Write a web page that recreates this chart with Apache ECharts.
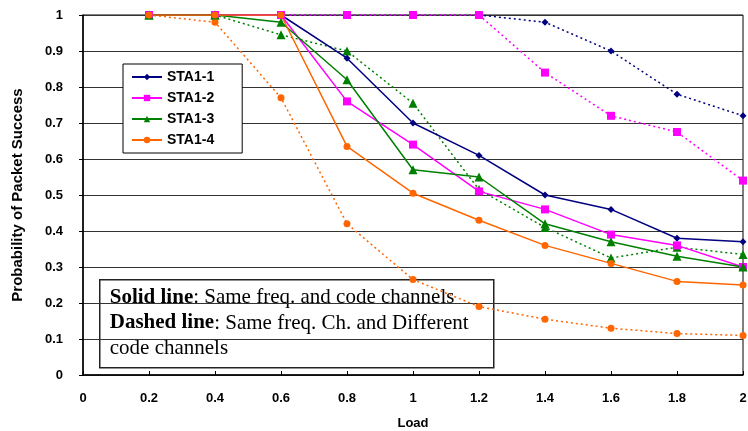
<!DOCTYPE html>
<html>
<head>
<meta charset="utf-8">
<script src="https://cdn.jsdelivr.net/npm/echarts@6/dist/echarts.min.js"></script>
<style>
  html, body { margin: 0; padding: 0; background: #fff; }
  #chart { width: 748px; height: 431px; }
</style>
</head>
<body>
<div id="chart"></div>
<script>
// load values on the x axis
var loads = [0.2, 0.4, 0.6, 0.8, 1.0, 1.2, 1.4, 1.6, 1.8, 2.0];

// solid = same freq. and code channels, dashed = same freq., different code channels
var sta1Solid  = [1, 1, 1, 0.88, 0.70, 0.61, 0.50, 0.46, 0.38, 0.37];
var sta1Dashed = [1, 1, 1, 1, 1, 1, 0.98, 0.90, 0.78, 0.72];
var sta2Solid  = [1, 1, 1, 0.76, 0.64, 0.51, 0.46, 0.39, 0.36, 0.30];
var sta2Dashed = [1, 1, 1, 1, 1, 1, 0.84, 0.72, 0.675, 0.54];
var sta3Solid  = [1, 1, 0.98, 0.82, 0.57, 0.55, 0.42, 0.37, 0.33, 0.30];
var sta3Dashed = [1, 1, 0.945, 0.90, 0.755, 0.515, 0.41, 0.325, 0.355, 0.335];
var sta4Solid  = [1, 1, 1, 0.635, 0.505, 0.43, 0.36, 0.31, 0.26, 0.25];
var sta4Dashed = [1, 0.98, 0.77, 0.42, 0.265, 0.19, 0.155, 0.13, 0.115, 0.11];

var names = ['STA1-1', 'STA1-2', 'STA1-3', 'STA1-4'];

var sans = "'Liberation Sans', Arial, sans-serif";
var serif = "'Liberation Serif', 'Times New Roman', serif";

function pairs(vals) {
  return loads.map(function (x, i) { return [x, vals[i]]; });
}

function line(name, vals, color, symbol, size, dashed) {
  return {
    name: name,
    type: 'line',
    data: pairs(vals),
    symbol: symbol,
    symbolSize: size,
    color: color,
    itemStyle: { color: color },
    lineStyle: dashed
      ? { color: color, width: 1.5, type: [2, 3] }
      : { color: color, width: 1.5 },
    z: dashed ? 2 : 3
  };
}

var chart = echarts.init(document.getElementById('chart'));
chart.setOption({
  animation: false,
  grid: {
    left: 83, right: 5, top: 15, bottom: 56,
    outerBoundsMode: 'none',
    containLabel: false,
    show: true, borderColor: '#000', borderWidth: 1
  },
  legend: {
    data: names,
    orient: 'vertical',
    left: 123, top: 64,
    itemWidth: 30, itemHeight: 8, itemGap: 7,
    padding: [6, 28, 6, 8],
    backgroundColor: '#fff',
    borderColor: '#000', borderWidth: 1,
    textStyle: { fontFamily: sans, fontWeight: 'bold', fontSize: 14, color: '#000' },
    z: 10
  },
  xAxis: {
    type: 'value',
    min: 0, max: 2, interval: 0.2,
    name: 'Load',
    nameLocation: 'middle',
    nameGap: 42,
    nameTextStyle: { fontFamily: sans, fontWeight: 'bold', fontSize: 13, color: '#000' },
    axisLine: { lineStyle: { color: '#000', width: 1.5 } },
    axisTick: { inside: true, length: 4, lineStyle: { color: '#000' } },
    axisLabel: { fontFamily: sans, fontWeight: 'bold', fontSize: 13, color: '#000', margin: 17 },
    splitLine: { show: false }
  },
  yAxis: {
    type: 'value',
    min: 0, max: 1, interval: 0.1,
    name: 'Probability of Packet Success',
    nameLocation: 'middle',
    nameGap: 58,
    nameTextStyle: { fontFamily: sans, fontWeight: 'bold', fontSize: 15, color: '#000' },
    axisLine: { show: true, lineStyle: { color: '#000', width: 1.5 } },
    axisTick: { show: true, length: 4, lineStyle: { color: '#000' } },
    axisLabel: { fontFamily: sans, fontWeight: 'bold', fontSize: 13, color: '#000', margin: 20 },
    splitLine: { show: true, lineStyle: { color: '#333', width: 1 } }
  },
  series: [
    line('STA1-1', sta1Solid, '#000080', 'diamond', 7, false),
    line('STA1-2', sta2Solid, '#ff00ff', 'rect', 8, false),
    line('STA1-3', sta3Solid, '#008000', 'triangle', 9, false),
    line('STA1-4', sta4Solid, '#ff6600', 'circle', 7, false),
    line('STA1-1 dashed', sta1Dashed, '#000080', 'diamond', 7, true),
    line('STA1-2 dashed', sta2Dashed, '#ff00ff', 'rect', 8, true),
    line('STA1-3 dashed', sta3Dashed, '#008000', 'triangle', 9, true),
    line('STA1-4 dashed', sta4Dashed, '#ff6600', 'circle', 7, true)
  ],
  graphic: [{
    type: 'group',
    left: 99, top: 279,
    z: 100,
    children: [{
      type: 'rect',
      shape: { x: 0, y: 0, width: 394, height: 88 },
      style: { fill: '#fff', stroke: '#222', lineWidth: 1.5 }
    }, {
      type: 'text',
      x: 10, y: 5,
      style: {
        text: '{b|Solid line}{n|: Same freq. and code channels}\n' +
              '{b|Dashed line}{n|: Same freq. Ch. and Different}\n' +
              '{n|code channels}',
        rich: {
          b: { fontFamily: serif, fontWeight: 'bold', fontSize: 21, lineHeight: 25.5, fill: '#000' },
          n: { fontFamily: serif, fontSize: 21, lineHeight: 25.5, fill: '#000' }
        }
      }
    }]
  }]
});
</script>
</body>
</html>
